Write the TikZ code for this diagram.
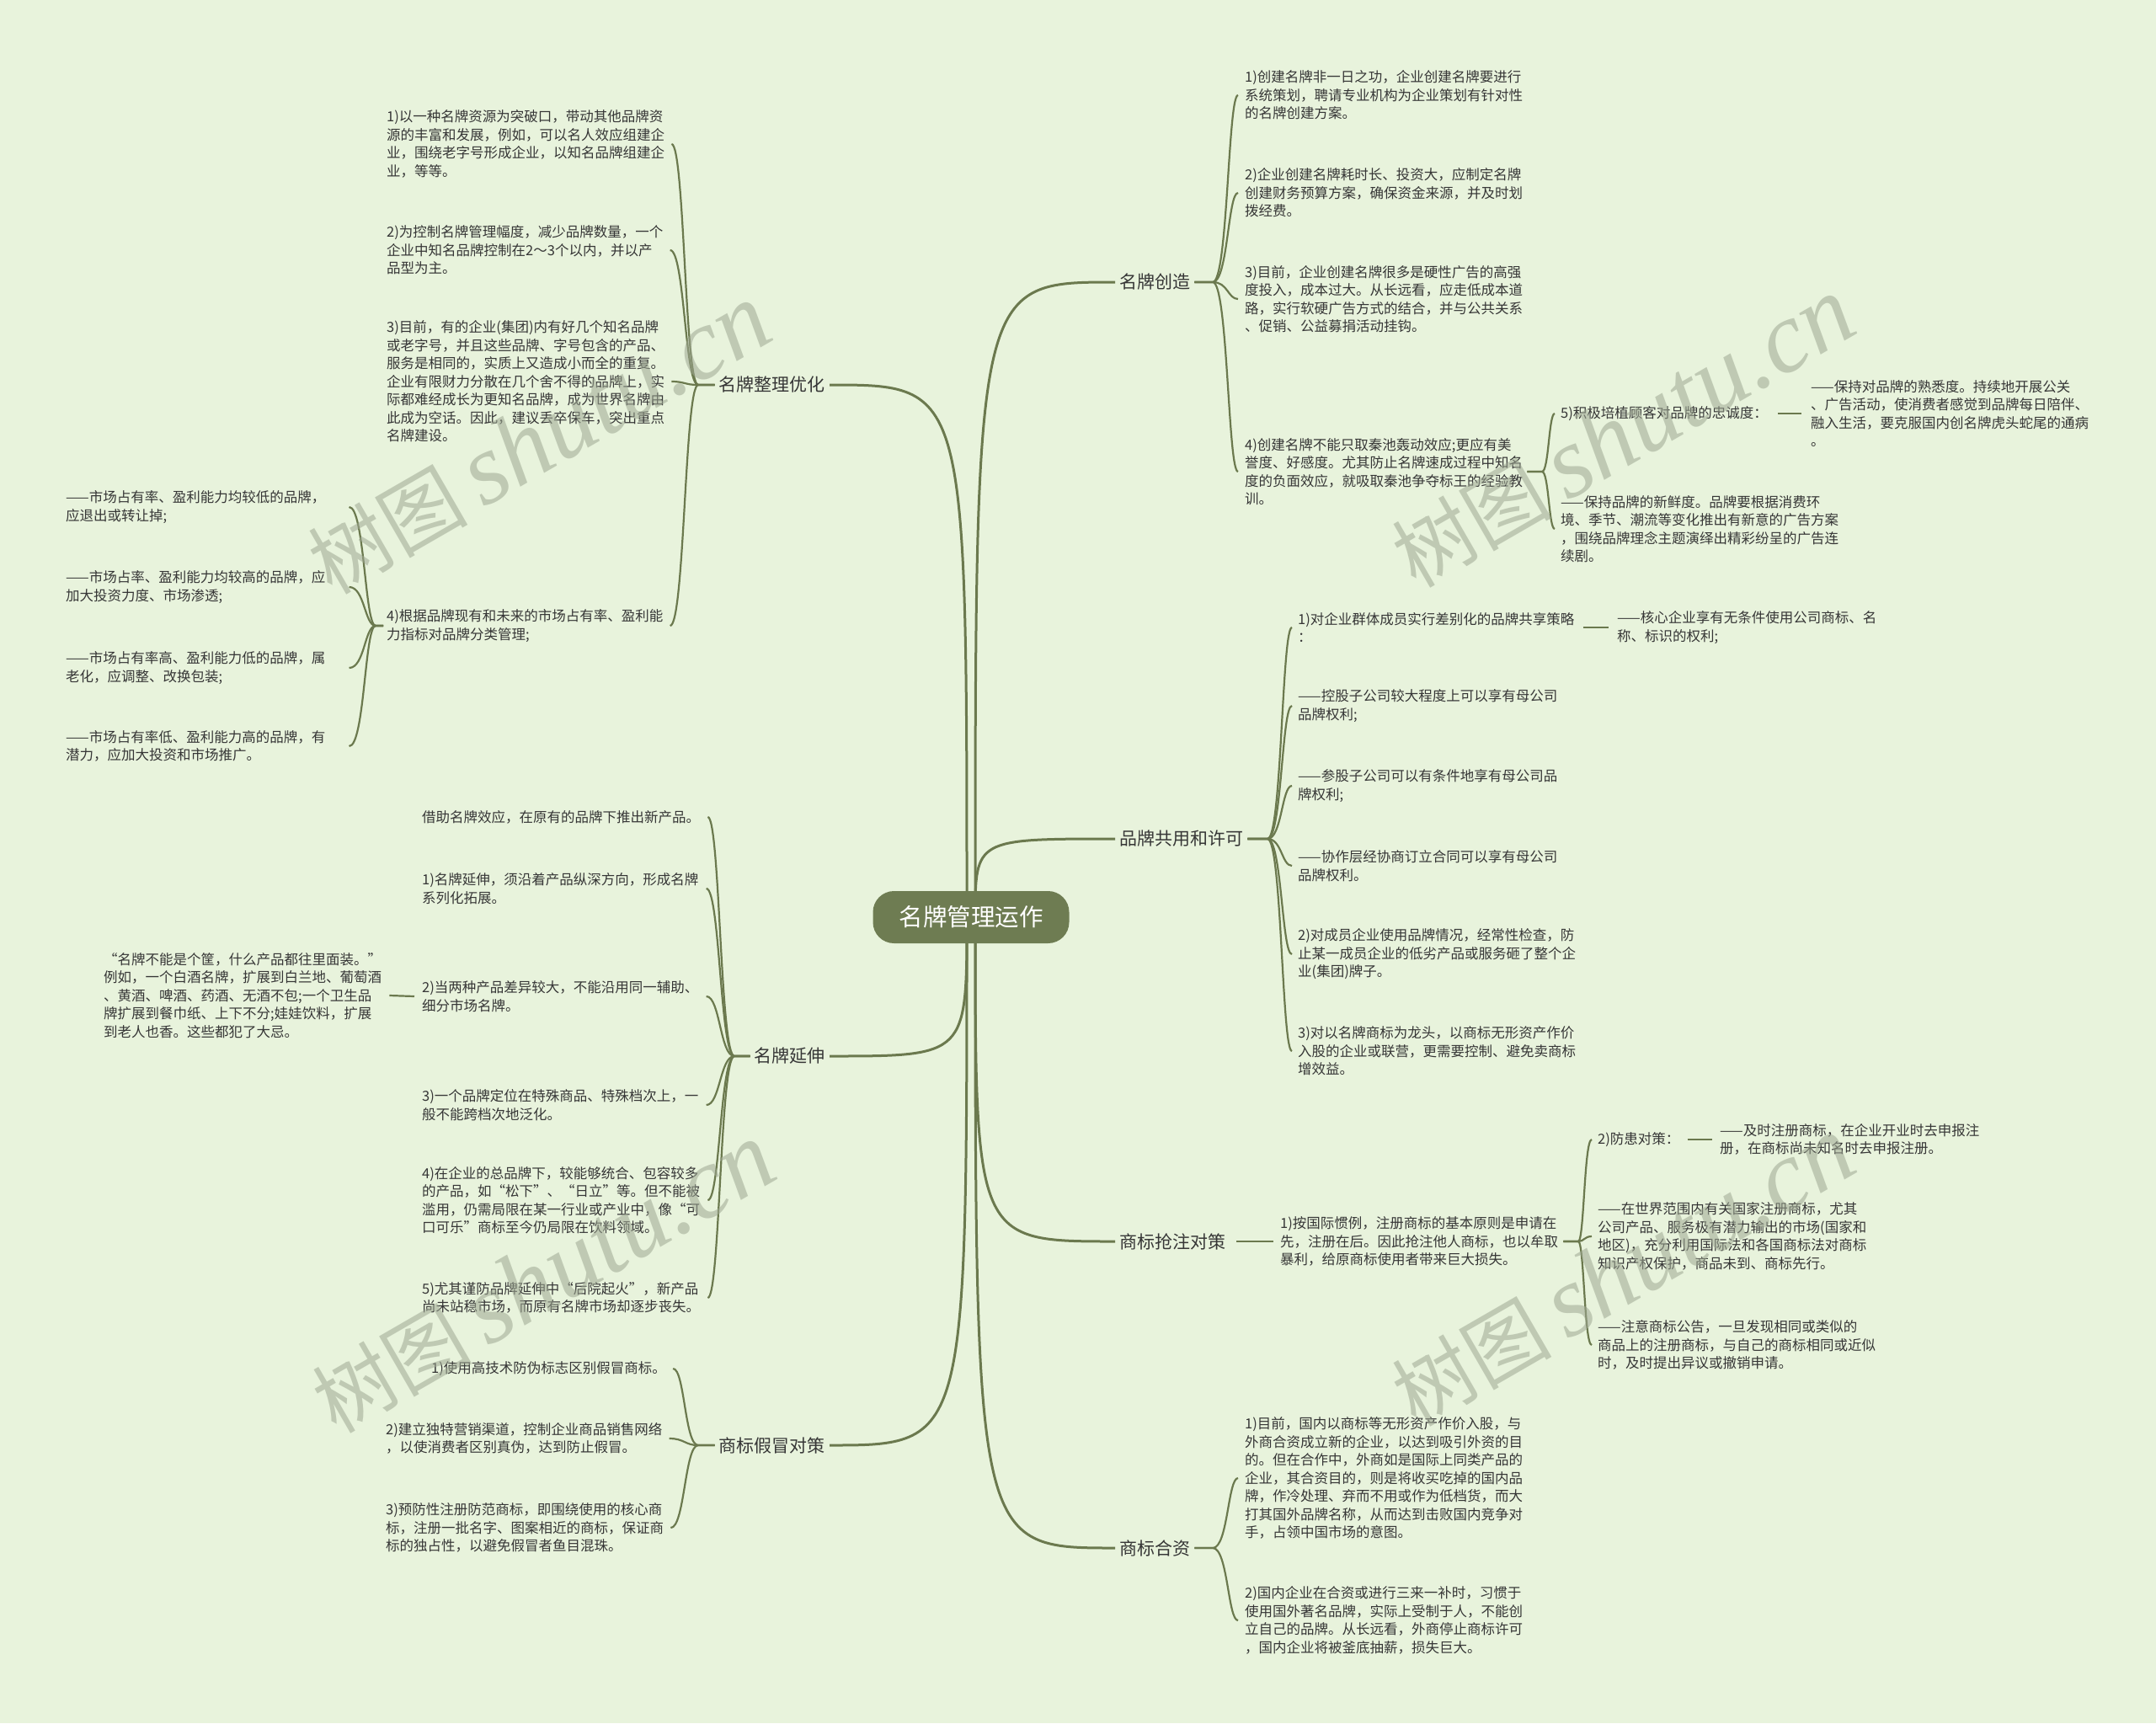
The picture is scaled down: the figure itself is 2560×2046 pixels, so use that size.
\documentclass[tikz,border=0pt]{standalone}
\usepackage{fontspec}
\setmainfont{Noto Sans CJK SC}
\newfontfamily\wmlatin{Liberation Serif}
\definecolor{bgc}{HTML}{E8F3DC}
\definecolor{lnc}{HTML}{6B794E}
\definecolor{rootc}{HTML}{6E7C52}
\definecolor{txt}{HTML}{363636}
\definecolor{wmc}{HTML}{9EA893}
\tikzset{
 leaf/.style={anchor=west, inner sep=0pt, align=left, text=txt, font=\fontsize{16.5}{21.5}\selectfont},
 lvone/.style={inner sep=5pt, text=txt, font=\fontsize{21}{25}\selectfont},
 br/.style={draw=lnc, line width=2.2pt},
 mainc/.style={draw=lnc, line width=3pt},
 wm/.style={text=wmc, opacity=0.55, rotate=30, font=\fontsize{95}{100}\selectfont},
}
\newcommand\mmconn[6]{\draw[br] (#1) -- (#2,#3) .. controls (#4,#3) and (#4,#5) .. (#6);}
\begin{document}
\begin{tikzpicture}[x=1pt,y=-1pt]
\fill[bgc] (0,0) rectangle (2560,2046);
\useasboundingbox (0,0) rectangle (2560,2046);

% ---------- level one ----------
\node[lvone, anchor=east] (mA) at (985,457) {名牌整理优化};
\node[lvone, anchor=east] (mB) at (985,1254) {名牌延伸};
\node[lvone, anchor=east] (mC) at (985,1716) {商标假冒对策};
\node[lvone, anchor=west] (mD) at (1324,335) {名牌创造};
\node[lvone, anchor=west] (mE) at (1324,996) {品牌共用和许可};
\node[lvone, anchor=west] (mF) at (1324,1474) {商标抢注对策};
\node[lvone, anchor=west] (mG) at (1324,1838) {商标合资};

% ---------- main curves ----------
\draw[mainc] (1158,1089) .. controls (1158,335) .. (mD.west);
\draw[mainc] (1158,1089) .. controls (1158,996) .. (mE.west);
\draw[mainc] (1158,1089) .. controls (1158,1474) .. (mF.west);
\draw[mainc] (1158,1089) .. controls (1158,1838) .. (mG.west);
\draw[mainc] (1148,1089) .. controls (1148,457) .. (mA.east);
\draw[mainc] (1148,1089) .. controls (1148,1254) .. (mB.east);
\draw[mainc] (1148,1089) .. controls (1148,1716) .. (mC.east);

\node[fill=rootc, rounded corners=25pt, minimum width=233pt, minimum height=62pt, text=white, font=\fontsize{28.5}{32}\selectfont] (root) at (1153,1089) {名牌管理运作};

% ---------- 名牌整理优化 ----------
\node[leaf] (a1) at (459,171) {1)以一种名牌资源为突破口，带动其他品牌资\\源的丰富和发展，例如，可以名人效应组建企\\业，围绕老字号形成企业，以知名品牌组建企\\业，等等。};
\node[leaf] (a2) at (459,297) {2)为控制名牌管理幅度，减少品牌数量，一个\\企业中知名品牌控制在2～3个以内，并以产\\品型为主。};
\node[leaf] (a3) at (459,453) {3)目前，有的企业(集团)内有好几个知名品牌\\或老字号，并且这些品牌、字号包含的产品、\\服务是相同的，实质上又造成小而全的重复。\\企业有限财力分散在几个舍不得的品牌上，实\\际都难经成长为更知名品牌，成为世界名牌由\\此成为空话。因此，建议丢卒保车，突出重点\\名牌建设。};
\node[leaf] (a4) at (459,743) {4)根据品牌现有和未来的市场占有率、盈利能\\力指标对品牌分类管理;};
\node[leaf] (a41) at (78,602) {——市场占有率、盈利能力均较低的品牌，\\应退出或转让掉;};
\node[leaf] (a42) at (78,697) {——市场占率、盈利能力均较高的品牌，应\\加大投资力度、市场渗透;};
\node[leaf] (a43) at (78,793) {——市场占有率高、盈利能力低的品牌，属\\老化，应调整、改换包装;};
\node[leaf] (a44) at (78,886) {——市场占有率低、盈利能力高的品牌，有\\潜力，应加大投资和市场推广。};
\mmconn{mA.west}{829}{457}{813}{171}{[xshift=8pt]a1.east}
\mmconn{mA.west}{829}{457}{813}{297}{[xshift=8pt]a2.east}
\mmconn{mA.west}{829}{457}{813}{453}{[xshift=8pt]a3.east}
\mmconn{mA.west}{829}{457}{813}{743}{[xshift=8pt]a4.east}
\mmconn{[xshift=-4pt]a4.west}{446}{743}{433}{602}{[xshift=28pt]a41.east}
\mmconn{[xshift=-4pt]a4.west}{446}{743}{433}{697}{[xshift=28pt]a42.east}
\mmconn{[xshift=-4pt]a4.west}{446}{743}{433}{793}{[xshift=28pt]a43.east}
\mmconn{[xshift=-4pt]a4.west}{446}{743}{433}{886}{[xshift=28pt]a44.east}

% ---------- 名牌延伸 ----------
\node[leaf] (b1) at (501,970) {借助名牌效应，在原有的品牌下推出新产品。};
\node[leaf] (b2) at (501,1055) {1)名牌延伸，须沿着产品纵深方向，形成名牌\\系列化拓展。};
\node[leaf] (b3) at (501,1183) {2)当两种产品差异较大，不能沿用同一辅助、\\细分市场名牌。};
\node[leaf] (b4) at (501,1312) {3)一个品牌定位在特殊商品、特殊档次上，一\\般不能跨档次地泛化。};
\node[leaf] (b5) at (501,1425) {4)在企业的总品牌下，较能够统合、包容较多\\的产品，如“松下”、“日立”等。但不能被\\滥用，仍需局限在某一行业或产业中，像“可\\口可乐”商标至今仍局限在饮料领域。};
\node[leaf] (b6) at (501,1541) {5)尤其谨防品牌延伸中“后院起火”，新产品\\尚未站稳市场，而原有名牌市场却逐步丧失。};
\node[leaf] (b0) at (123,1182) {“名牌不能是个筐，什么产品都往里面装。”\\例如，一个白酒名牌，扩展到白兰地、葡萄酒\\、黄酒、啤酒、药酒、无酒不包;一个卫生品\\牌扩展到餐巾纸、上下不分;娃娃饮料，扩展\\到老人也香。这些都犯了大忌。};
\mmconn{mB.west}{872}{1254}{855}{970}{[xshift=9pt]b1.east}
\mmconn{mB.west}{872}{1254}{855}{1055}{[xshift=9pt]b2.east}
\mmconn{mB.west}{872}{1254}{855}{1183}{[xshift=9pt]b3.east}
\mmconn{mB.west}{872}{1254}{855}{1312}{[xshift=9pt]b4.east}
\mmconn{mB.west}{872}{1254}{855}{1425}{[xshift=9pt]b5.east}
\mmconn{mB.west}{872}{1254}{855}{1541}{[xshift=9pt]b6.east}
\draw[br] ([xshift=-9pt]b3.west) -- ([xshift=9pt]b0.east);

% ---------- 商标假冒对策 ----------
\node[leaf] (c1) at (512,1625) {1)使用高技术防伪标志区别假冒商标。};
\node[leaf] (c2) at (458,1708) {2)建立独特营销渠道，控制企业商品销售网络\\，以使消费者区别真伪，达到防止假冒。};
\node[leaf] (c3) at (458,1814) {3)预防性注册防范商标，即围绕使用的核心商\\标，注册一批名字、图案相近的商标，保证商\\标的独占性，以避免假冒者鱼目混珠。};
\mmconn{mC.west}{829}{1716}{813}{1625}{[xshift=8pt]c1.east}
\mmconn{mC.west}{829}{1716}{813}{1708}{[xshift=8pt]c2.east}
\mmconn{mC.west}{829}{1716}{813}{1814}{[xshift=8pt]c3.east}

% ---------- 名牌创造 ----------
\node[leaf] (d1) at (1478,113) {1)创建名牌非一日之功，企业创建名牌要进行\\系统策划，聘请专业机构为企业策划有针对性\\的名牌创建方案。};
\node[leaf] (d2) at (1478,229) {2)企业创建名牌耗时长、投资大，应制定名牌\\创建财务预算方案，确保资金来源，并及时划\\拨经费。};
\node[leaf] (d3) at (1478,355) {3)目前，企业创建名牌很多是硬性广告的高强\\度投入，成本过大。从长远看，应走低成本道\\路，实行软硬广告方式的结合，并与公共关系\\、促销、公益募捐活动挂钩。};
\node[leaf] (d4) at (1478,560) {4)创建名牌不能只取秦池轰动效应;更应有美\\誉度、好感度。尤其防止名牌速成过程中知名\\度的负面效应，就吸取秦池争夺标王的经验教\\训。};
\node[leaf] (d41) at (1853,491) {5)积极培植顾客对品牌的忠诚度：};
\node[leaf] (d411) at (2150,491) {——保持对品牌的熟悉度。持续地开展公关\\、广告活动，使消费者感觉到品牌每日陪伴、\\融入生活，要克服国内创名牌虎头蛇尾的通病\\。};
\node[leaf] (d42) at (1853,628) {——保持品牌的新鲜度。品牌要根据消费环\\境、季节、潮流等变化推出有新意的广告方案\\，围绕品牌理念主题演绎出精彩纷呈的广告连\\续剧。};
\mmconn{mD.east}{1440}{335}{1458}{113}{[xshift=-8pt]d1.west}
\mmconn{mD.east}{1440}{335}{1458}{229}{[xshift=-8pt]d2.west}
\mmconn{mD.east}{1440}{335}{1458}{355}{[xshift=-8pt]d3.west}
\mmconn{mD.east}{1440}{335}{1458}{560}{[xshift=-8pt]d4.west}
\mmconn{[xshift=5pt]d4.east}{1831}{560}{1839}{491}{[xshift=-7pt]d41.west}
\mmconn{[xshift=5pt]d4.east}{1831}{560}{1839}{628}{[xshift=-7pt]d42.west}
\draw[br] ([xshift=12pt]d41.east) -- ([xshift=-11pt]d411.west);

% ---------- 品牌共用和许可 ----------
\node[leaf] (e1) at (1541,745) {1)对企业群体成员实行差别化的品牌共享策略\\：};
\node[leaf] (e11) at (1920,745) {——核心企业享有无条件使用公司商标、名\\称、标识的权利;};
\node[leaf] (e2) at (1541,838) {——控股子公司较大程度上可以享有母公司\\品牌权利;};
\node[leaf] (e3) at (1541,933) {——参股子公司可以有条件地享有母公司品\\牌权利;};
\node[leaf] (e4) at (1541,1028) {——协作层经协商订立合同可以享有母公司\\品牌权利。};
\node[leaf] (e5) at (1541,1133) {2)对成员企业使用品牌情况，经常性检查，防\\止某一成员企业的低劣产品或服务砸了整个企\\业(集团)牌子。};
\node[leaf] (e6) at (1541,1248) {3)对以名牌商标为龙头，以商标无形资产作价\\入股的企业或联营，更需要控制、避免卖商标\\增效益。};
\mmconn{mE.east}{1505}{996}{1522}{745}{[xshift=-7pt]e1.west}
\mmconn{mE.east}{1505}{996}{1522}{838}{[xshift=-7pt]e2.west}
\mmconn{mE.east}{1505}{996}{1522}{933}{[xshift=-7pt]e3.west}
\mmconn{mE.east}{1505}{996}{1522}{1028}{[xshift=-7pt]e4.west}
\mmconn{mE.east}{1505}{996}{1522}{1133}{[xshift=-7pt]e5.west}
\mmconn{mE.east}{1505}{996}{1522}{1248}{[xshift=-7pt]e6.west}
\draw[br] ([xshift=10pt]e1.east |- e1.west) -- ([xshift=-10pt]e11.west);

% ---------- 商标抢注对策 ----------
\node[leaf] (f1) at (1520,1474) {1)按国际惯例，注册商标的基本原则是申请在\\先，注册在后。因此抢注他人商标，也以牟取\\暴利，给原商标使用者带来巨大损失。};
\node[leaf] (f2) at (1897,1353) {2)防患对策：};
\node[leaf] (f21) at (2042,1353) {——及时注册商标，在企业开业时去申报注\\册，在商标尚未知名时去申报注册。};
\node[leaf] (f3) at (1897,1468) {——在世界范围内有关国家注册商标，尤其\\公司产品、服务极有潜力输出的市场(国家和\\地区)，充分利用国际法和各国商标法对商标\\知识产权保护，商品未到、商标先行。};
\node[leaf] (f4) at (1897,1597) {——注意商标公告，一旦发现相同或类似的\\商品上的注册商标，与自己的商标相同或近似\\时，及时提出异议或撤销申请。};
\draw[br] ([xshift=8pt]mF.east) -- ([xshift=-8pt]f1.west);
\mmconn{[xshift=6pt]f1.east}{1874}{1474}{1881}{1353}{[xshift=-7pt]f2.west}
\mmconn{[xshift=6pt]f1.east}{1874}{1474}{1881}{1468}{[xshift=-7pt]f3.west}
\mmconn{[xshift=6pt]f1.east}{1874}{1474}{1881}{1597}{[xshift=-7pt]f4.west}
\draw[br] ([xshift=9pt]f2.east) -- ([xshift=-9pt]f21.west);

% ---------- 商标合资 ----------
\node[leaf] (g1) at (1478,1755) {1)目前，国内以商标等无形资产作价入股，与\\外商合资成立新的企业，以达到吸引外资的目\\的。但在合作中，外商如是国际上同类产品的\\企业，其合资目的，则是将收买吃掉的国内品\\牌，作冷处理、弃而不用或作为低档货，而大\\打其国外品牌名称，从而达到击败国内竞争对\\手，占领中国市场的意图。};
\node[leaf] (g2) at (1478,1924) {2)国内企业在合资或进行三来一补时，习惯于\\使用国外著名品牌，实际上受制于人，不能创\\立自己的品牌。从长远看，外商停止商标许可\\，国内企业将被釜底抽薪，损失巨大。};
\mmconn{mG.east}{1440}{1838}{1458}{1755}{[xshift=-8pt]g1.west}
\mmconn{mG.east}{1440}{1838}{1458}{1924}{[xshift=-8pt]g2.west}

% ---------- watermarks ----------
\node[wm] (w1) at (640,522) {树图\hspace{18pt}{\wmlatin\itshape\fontsize{120}{120}\selectfont shutu.cn}};
\node[wm] (w2) at (1927,514) {树图\hspace{18pt}{\wmlatin\itshape\fontsize{120}{120}\selectfont shutu.cn}};
\node[wm] (w3) at (645,1518) {树图\hspace{18pt}{\wmlatin\itshape\fontsize{120}{120}\selectfont shutu.cn}};
\node[wm] (w4) at (1927,1510) {树图\hspace{18pt}{\wmlatin\itshape\fontsize{120}{120}\selectfont shutu.cn}};
\end{tikzpicture}
\end{document}
